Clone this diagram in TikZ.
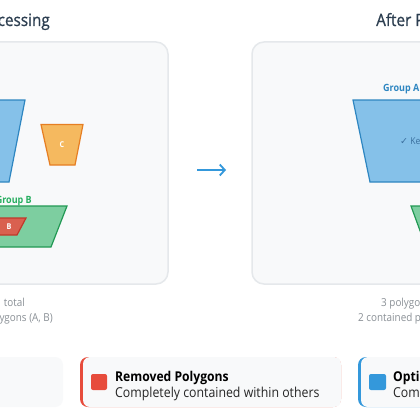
\documentclass[tikz,border=0pt]{standalone}
\usepackage{fontspec}
\setmainfont{Open Sans}[FakeStretch=0.9]
\newfontfamily\titlefont{Open Sans}[FakeStretch=0.9, FakeBold=0.8]
\newfontfamily\symfont{DejaVu Sans}
\usetikzlibrary{arrows.meta}
\definecolor{panelbg}{HTML}{F8F9FA}
\definecolor{panelline}{HTML}{E5E8EB}
\definecolor{titlec}{HTML}{2C3E50}
\definecolor{bluef}{HTML}{85C1E9}
\definecolor{bluel}{HTML}{2E86C1}
\definecolor{orangef}{HTML}{F5B95F}
\definecolor{orangel}{HTML}{E67E22}
\definecolor{greenf}{HTML}{7DCEA0}
\definecolor{greenl}{HTML}{229954}
\definecolor{greent}{HTML}{27AE60}
\definecolor{redf}{HTML}{D9604F}
\definecolor{redl}{HTML}{C0392B}
\definecolor{grayt}{HTML}{8A9096}
\definecolor{accred}{HTML}{E74C3C}
\definecolor{accblue}{HTML}{3498DB}
\definecolor{keptc}{HTML}{3A6F9E}
\tikzset{
  panel/.style={fill=panelbg, draw=panelline, line width=1.5pt, rounded corners=12pt},
  poly/.style={line width=1.2pt, line join=miter},
  title/.style={font=\titlefont\fontsize{17}{20}\selectfont, text=titlec, inner sep=0pt},
  grp/.style={font=\fontsize{10}{12}\selectfont\bfseries, inner sep=0pt},
  plabel/.style={font=\fontsize{8}{10}\selectfont\bfseries, text=white, inner sep=0pt},
  note/.style={font=\fontsize{11}{13}\selectfont, text=grayt, inner sep=0pt},
  cardbox/.style={fill=panelbg, rounded corners=8pt},
  ctitle/.style={font=\fontsize{13.5}{16}\selectfont\bfseries, text=black, inner sep=0pt},
  ctext/.style={font=\fontsize{13.7}{16}\selectfont, text=black!85, inner sep=0pt},
}
\begin{document}
\begin{tikzpicture}[x=1pt,y=-1pt]
\useasboundingbox (0,0) rectangle (420,420);
\clip (0,0) rectangle (420,420);
\fill[white] (0,0) rectangle (420,420);
% titles
\node[title, anchor=base east] (t1) at (50,26) {Before Processing};
\node[title, anchor=base west] (t2) at (376,26) {After Processing};
% panels
\draw[panel] (-200,42) rectangle (168,284);
\draw[panel] (252,42) rectangle (620,284);
% left polygons
\draw[poly, fill=bluef, draw=bluel] (-100,100) -- (25,100) -- (9,182) -- (-100,182) -- cycle;
\draw[poly, fill=orangef, draw=orangel] (41,124.5) -- (83,124.5) -- (75,165) -- (50,165) -- cycle;
\node[plabel] (lc) at (62,144.5) {C};
\node[grp, text=greent, anchor=base east] (gb) at (32,203) {Group B};
\draw[poly, fill=greenf, draw=greenl] (-60,206) -- (67,206) -- (51,247) -- (-80,247) -- cycle;
\draw[poly, fill=redf, draw=redl] (-2,218) -- (26,218) -- (17,235) -- (-11,235) -- cycle;
\node[plabel] (lb) at (9,226.5) {B};
% arrow
\coordinate (as) at (197,170);
\coordinate (ae) at (226,170);
\draw[accblue, line width=1.8pt, -{Straight Barb[length=5pt,width=11pt]}] (as) -- (ae);
% right polygons
\node[grp, text=bluel, anchor=base west] (ga) at (383,92) {Group A};
\draw[poly, fill=bluef, draw=bluel] (353,100) -- (520,100) -- (500,182) -- (370,182) -- cycle;
\node[font=\fontsize{9.5}{11}\selectfont, text=keptc, anchor=west, inner sep=0pt] (kept) at (400,142) {{\symfont ✓} Kept};
\draw[poly, fill=greenf, draw=greenl] (411,206) -- (540,206) -- (520,247) -- (426,247) -- cycle;
% notes
\node[note, anchor=base east] (n1) at (25,306) {total};
\node[note, anchor=base east] (n2) at (53,321) {polygons (A, B)};
\node[note, anchor=base west] (n3) at (381,306) {3 polygons};
\node[note, anchor=base west] (n4) at (358,321) {2 contained polygons};
% cards
\fill[cardbox] (-200,357) rectangle (63,407);
\fill[accred, rounded corners=8pt] (80,357) rectangle (341,407);
\fill[panelbg, rounded corners=7pt] (83,357) rectangle (341,407);
\fill[accred, rounded corners=2pt] (91,374) rectangle (107,390);
\node[ctitle, anchor=base west] (c2t) at (115,381) {Removed Polygons};
\node[ctext, anchor=base west] (c2d) at (115,397) {Completely contained within others};
\fill[accblue, rounded corners=8pt] (358,357) rectangle (620,407);
\fill[panelbg, rounded corners=7pt] (361,357) rectangle (620,407);
\fill[accblue, rounded corners=2pt] (369,374) rectangle (386,390);
\node[ctitle, anchor=base west] (c3t) at (393,381) {Optimized Result};
\node[ctext, anchor=base west] (c3d) at (393,397) {Combined polygons};
\end{tikzpicture}
\end{document}
